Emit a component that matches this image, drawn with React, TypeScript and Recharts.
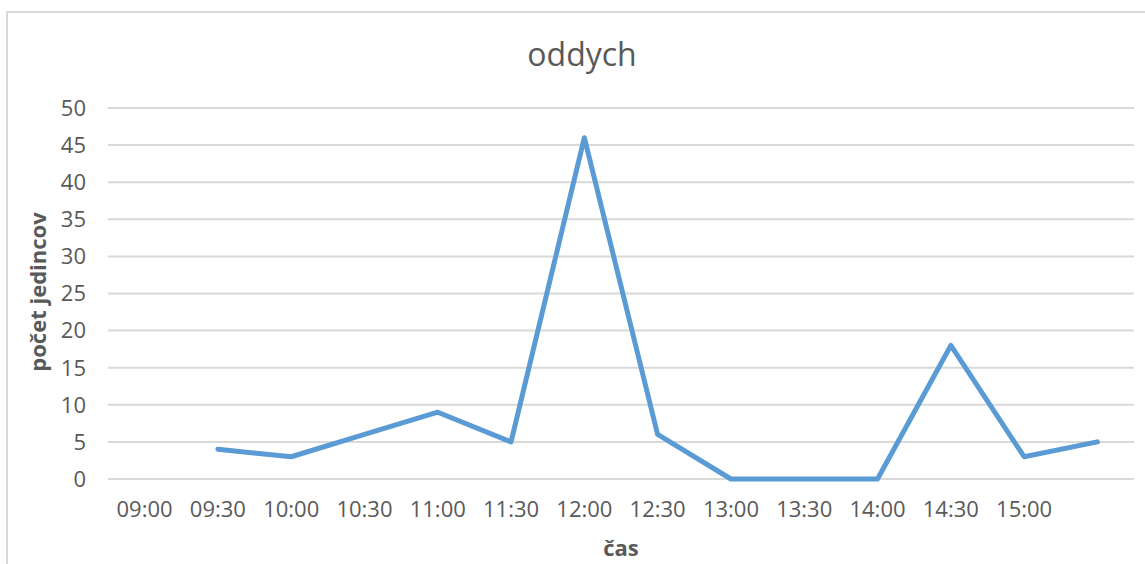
import { LineChart, Line, XAxis, YAxis, CartesianGrid } from 'recharts'

const times = ['09:00', '09:30', '10:00', '10:30', '11:00', '11:30', '12:00', '12:30', '13:00', '13:30', '14:00', '14:30', '15:00', '']
const counts: (number | null)[] = [null, 4, 3, 6, 9, 5, 46, 6, 0, 0, 0, 18, 3, 5]
const yTicks = [0, 5, 10, 15, 20, 25, 30, 35, 40, 45, 50]

const FONT = '"Open Sans", "Liberation Sans", sans-serif'
const TEXT = '#595959'
const GRID = '#d9d9d9'

const data = times.map((t, i) => ({ time: t, count: counts[i] }))

export default function App() {
  return (
    <div
      style={{
        position: 'absolute',
        left: 0,
        top: 0,
        width: 1145,
        height: 564,
        overflow: 'hidden',
        background: '#fff',
        fontFamily: FONT,
      }}
    >
      {/* chart frame, right and bottom edges fall outside the shot */}
      <div
        style={{
          position: 'absolute',
          left: 6,
          top: 11,
          width: 1200,
          height: 600,
          border: `2px solid ${GRID}`,
          boxSizing: 'border-box',
        }}
      />
      <div
        style={{
          position: 'absolute',
          left: 0,
          width: 1164,
          top: 34,
          textAlign: 'center',
          fontSize: 32,
          color: TEXT,
          lineHeight: '40px',
        }}
      >
        oddych
      </div>
      <div
        style={{
          position: 'absolute',
          left: 37,
          top: 292,
          transform: 'translate(-50%, -50%) rotate(-90deg)',
          whiteSpace: 'nowrap',
          fontSize: 22,
          fontWeight: 700,
          color: TEXT,
        }}
      >
        počet jedincov
      </div>
      <div style={{ position: 'absolute', left: 0, top: 0 }}>
        <LineChart width={1145} height={564} data={data} margin={{ top: 108, right: 11, left: 0, bottom: 0 }}>
          <CartesianGrid vertical={false} stroke={GRID} strokeWidth={2} />
          <XAxis
            dataKey="time"
            axisLine={false}
            tickLine={false}
            tickSize={0}
            tickMargin={22}
            height={85}
            interval={0}
            padding={{ left: 36.6, right: 36.6 }}
            tick={{ fill: TEXT, fontSize: 22, fontFamily: FONT }}
            label={{ value: 'čas', position: 'insideBottom', offset: 8, fill: TEXT, fontSize: 22, fontWeight: 700, fontFamily: FONT }}
          />
          <YAxis
            domain={[0, 50]}
            ticks={yTicks}
            axisLine={false}
            tickLine={false}
            tickSize={0}
            tickMargin={22}
            width={108}
            tick={{ fill: TEXT, fontSize: 22, fontFamily: FONT }}
          />
          <Line
            dataKey="count"
            stroke="#5b9bd5"
            strokeWidth={5}
            strokeLinejoin="round"
            strokeLinecap="round"
            dot={false}
            activeDot={false}
            isAnimationActive={false}
          />
        </LineChart>
      </div>
    </div>
  )
}
